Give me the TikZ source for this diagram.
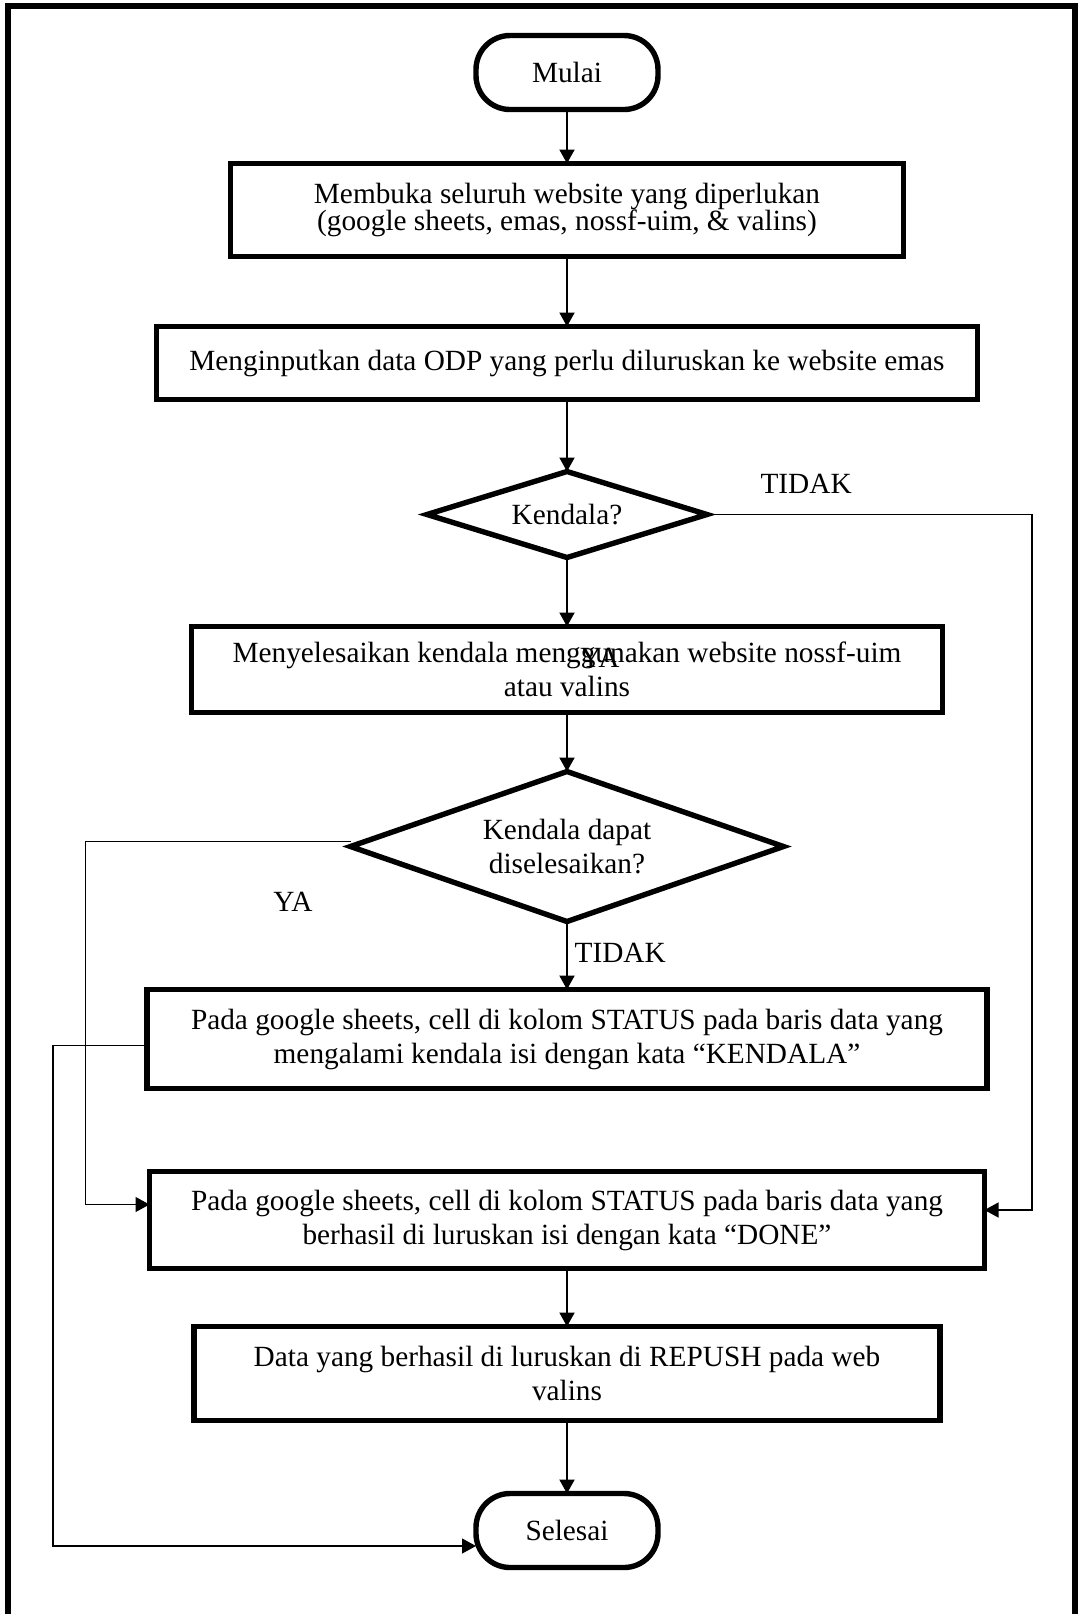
\documentclass[tikz,border=0pt]{standalone}
\usepackage{fontspec}
\setmainfont{Liberation Serif}
\usetikzlibrary{arrows.meta,positioning,shapes.geometric}

\begin{document}
\begin{tikzpicture}[
  x=1pt,y=-1pt,
  font=\fontsize{14.65pt}{17pt}\selectfont,
  proses/.style={draw,line width=2.7pt,outer sep=0pt,inner sep=0pt,align=center},
  terminal/.style={proses,rounded corners=17pt,minimum width=91pt,minimum height=37pt},
  keputusan/.style={proses,diamond,aspect=3},
  alur/.style={line width=1pt,-{Triangle[length=7pt,width=7.5pt]}},
  balik/.style={alur,line width=.65pt}
]
  \useasboundingbox (0,0) rectangle (541,807);
  \draw[line width=3.2pt] (4,807) -- (4,3) -- (537.5,3) -- (537.5,807);

  \node[terminal] (mulai) at (283.5,36.25) {Mulai};
  \node[proses,minimum width=336.5pt,minimum height=46.5pt,below=27pt of mulai,
    font=\fontsize{14.65pt}{13.5pt}\selectfont] (buka)
    {Membuka seluruh website yang diperlukan\\(google sheets, emas, nossf-uim, \& valins)};
  \node[proses,minimum width=410.5pt,minimum height=36.5pt,below=35pt of buka] (input)
    {Menginputkan data ODP yang perlu diluruskan ke website emas};
  \node[keputusan,minimum width=140pt,minimum height=43pt,below=36pt of input] (kendala)
    {Kendala?};
  \node[proses,minimum width=375.5pt,minimum height=43pt,below=34.5pt of kendala] (selesaikan)
    {Menyelesaikan kendala menggunakan website nossf-uim\\atau valins};
  \node[keputusan,minimum width=216.5pt,minimum height=75pt,below=29.5pt of selesaikan] (dapat)
    {Kendala dapat\\diselesaikan?};
  \node[proses,minimum width=420pt,minimum height=49.5pt,below=34pt of dapat] (tandai)
    {Pada google sheets, cell di kolom STATUS pada baris data yang\\mengalami kendala isi dengan kata “KENDALA”};
  \node[proses,minimum width=417.5pt,minimum height=48.5pt,below=41.5pt of tandai] (done)
    {Pada google sheets, cell di kolom STATUS pada baris data yang\\berhasil di luruskan isi dengan kata “DONE”};
  \node[proses,minimum width=373pt,minimum height=47pt,below=29pt of done] (repush)
    {Data yang berhasil di luruskan di REPUSH pada web\\valins};
  \node[terminal,below=36.5pt of repush] (selesai) {Selesai};

  \draw[alur] (mulai) -- (buka);
  \draw[alur] (buka) -- (input);
  \draw[alur] (input) -- (kendala);
  \draw[alur] (kendala) -- (selesaikan);
  \draw[alur] (selesaikan) -- (dapat);
  \draw[alur] (dapat) -- node[pos=.46,right=0pt]{TIDAK} (tandai);
  \draw[alur] (done) -- (repush);
  \draw[alur] (repush) -- (selesai);

  \draw[balik] (kendala.east) -- node[pos=.305,above=7pt]{TIDAK} ++(162.5,0)
    |- ([yshift=5pt]done.east);
  \draw[balik] ([yshift=2.5pt]dapat.west) -- ++(-132.5,0) |- ([yshift=7.75pt]done.west);
  \draw[balik] ([yshift=-3.25pt]tandai.west) -- ++(-47,0) |- ([yshift=-7.75pt]selesai.west);

  \node (yaatas) at ([xshift=16.5pt,yshift=-15.5pt]selesaikan.north) {YA};
  \node (yabawah) at (146.5,451) {YA};
\end{tikzpicture}
\end{document}
